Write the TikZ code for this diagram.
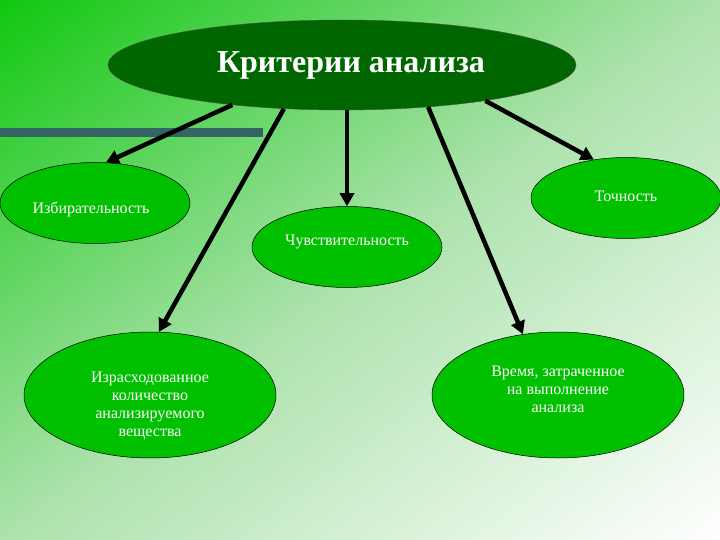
\documentclass[tikz,border=0pt]{standalone}
\usepackage{fontspec}
\setmainfont{Liberation Serif}
\usetikzlibrary{shapes.geometric,positioning,arrows.meta}
\definecolor{bggreen}{RGB}{16,200,16}
\definecolor{bgmid}{RGB}{172,226,172}
\definecolor{darkleaf}{RGB}{0,102,0}
\definecolor{leaf}{RGB}{0,192,0}
\definecolor{slatebar}{RGB}{52,100,100}
\newcommand{\lifted}[2]{\raisebox{#1}[\height][\depth]{\begin{tabular}{@{}c@{}}#2\end{tabular}}}

\begin{document}
\begin{tikzpicture}[x=1pt,y=-1pt,on grid,
  crit/.style={ellipse,draw=black,line width=0.5pt,fill=leaf,text=white,
    font=\fontsize{16}{18}\selectfont,inner sep=0pt,
    minimum width=190pt,minimum height=81pt},
  bigcrit/.style={crit,minimum width=252pt,minimum height=126pt},
  link/.style={line width=4.5pt,-{Triangle[length=13pt,width=14pt]}}]
   \useasboundingbox (0,0) rectangle (720,540);
   % diagonal background
   \begin{scope}
     \clip (0,0) rectangle (720,540);
     \shade[transform canvas={shift={(360,270)},rotate=36.87},
       top color=bggreen,bottom color=white,middle color=bgmid]
       (-500,-432) rectangle (500,432);
   \end{scope}
   \fill[slatebar] (0,128) rectangle (263,137);
   \node[ellipse,draw=black!70,fill=darkleaf,text=white,
     minimum width=468pt,minimum height=90pt,
     font=\fontsize{32}{36}\selectfont\bfseries] (main) at (342,65)
     {\hspace*{18pt}\lifted{0pt}{Критерии анализа}};
   \node[crit] (izb)  [below left=138pt and 247pt of main] {\lifted{-7pt}{Избирательность}\hspace*{8pt}};
   \node[crit] (toch) [below right=133pt and 284pt of main] {\lifted{0pt}{Точность}};
   \node[crit] (chuv) [below right=182pt and 5pt of main] {\lifted{5pt}{Чувствительность}};
   \node[bigcrit] (izr)  [below left=330pt and 192pt of main]
     {\lifted{-11pt}{Израсходованное\\количество\\анализируемого\\вещества}};
   \node[bigcrit] (vrem) [below right=330pt and 216pt of main]
     {\lifted{4pt}{Время, затраченное\\на выполнение\\анализа}};
   \draw[link] (main.200) -- (izb.75);
   \draw[link] (main.217) -- (izr.82);
   \draw[link] (main.south -| chuv.north) -- (chuv.north);
   \draw[link] (main.334) -- (vrem.120);
   \draw[link] (main.346) -- (toch.130);
\end{tikzpicture}
\end{document}
